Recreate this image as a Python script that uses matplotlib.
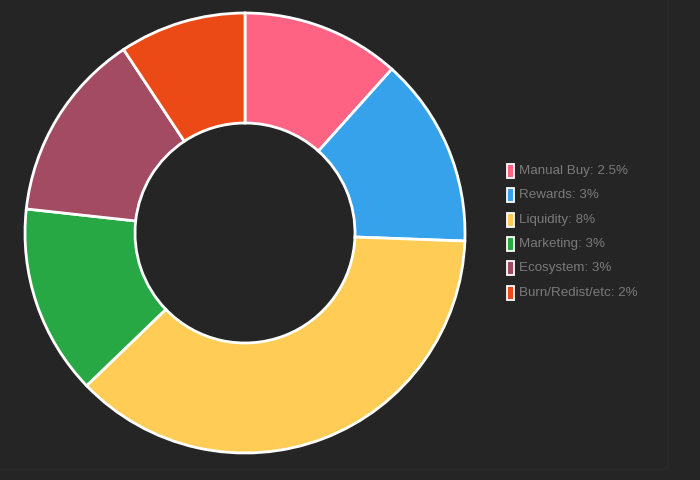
import matplotlib
matplotlib.use("Agg")
import matplotlib.pyplot as plt
from matplotlib.patches import Rectangle, FancyBboxPatch

labels = ["Manual Buy: 2.5%", "Rewards: 3%", "Liquidity: 8%", "Marketing: 3%", "Ecosystem: 3%", "Burn/Redist/etc: 2%"]
values = [2.5, 3, 8, 3, 3, 2]
colors = ["#FF6384", "#36A2EB", "#FFCD56", "#28A745", "#A24B62", "#EB4A16"]

W, H = 700, 480
fig = plt.figure(figsize=(7, 4.8), dpi=100, facecolor="#252525")
plt.rcParams['font.family'] = ['Liberation Sans', 'DejaVu Sans']

# subtle panel border
bg = fig.add_axes([0, 0, 1, 1], zorder=0)
bg.set_xlim(0, W); bg.set_ylim(H, 0); bg.axis("off")
bg.add_patch(FancyBboxPatch((-20, -20), 688, 490, boxstyle="round,pad=0,rounding_size=6",
                            facecolor="#252525", edgecolor="#2a2a2a", lw=1.0))

cx, cy, R = 245, 233, 220
ax = fig.add_axes([(cx - R) / W, (H - cy - R) / H, 2 * R / W, 2 * R / H], zorder=1)
ax.pie(values, colors=colors, startangle=90, counterclock=False, radius=1,
       wedgeprops=dict(width=0.5, edgecolor="white", linewidth=2))
ax.set_xlim(-1, 1); ax.set_ylim(-1, 1)
ax.set_aspect("equal")
ax.axis("off")

# legend
lx, ly0, dy = 507, 171, 24.3
for i, (lab, c) in enumerate(zip(labels, colors)):
    y = ly0 + i * dy
    bg.add_patch(Rectangle((lx, y - 7), 7, 14, facecolor=c, edgecolor="white", lw=1.3, zorder=3))
    bg.text(lx + 12, y, lab, color="#7a7a7a", fontsize=9.6, va="center", ha="left", zorder=3)

fig.savefig("out.png", dpi=100, facecolor=fig.get_facecolor())
